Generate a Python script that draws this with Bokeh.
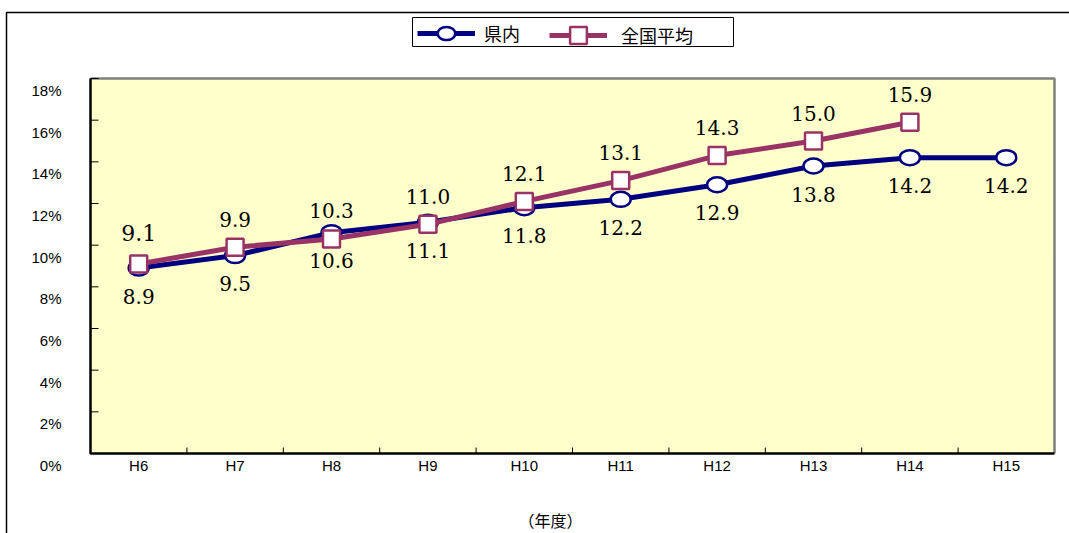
import math
from bokeh.plotting import figure
from bokeh.models import (ColumnDataSource, Range1d, Legend, LegendItem, BoxAnnotation)
from bokeh.core.properties import value
from bokeh.embed import file_html
from bokeh.resources import INLINE

# ---- data ----
years = ["H6", "H7", "H8", "H9", "H10", "H11", "H12", "H13", "H14", "H15"]
pref = [8.9, 9.5, 10.6, 11.1, 11.8, 12.2, 12.9, 13.8, 14.2, 14.2]      # 県内
national = [9.1, 9.9, 10.3, 11.0, 12.1, 13.1, 14.3, 15.0, 15.9]       # 全国平均
y_ticks = [0, 2, 4, 6, 8, 10, 12, 14, 16, 18]
y_tick_labels = [f"{t}%" for t in y_ticks]
x_title = "（年度）"
pref_name = "県内"
nat_name = "全国平均"

NAVY = "#000080"
PLUM = "#993366"

# ---- geometry (pixels) ----
W, H = 1069, 533
L, R, T, B = 90, 1054, 78, 453
n = len(years)
y_min, y_max = y_ticks[0], y_ticks[-1]
xpx = (R - L) / n
ypx = (B - T) / (y_max - y_min)
x_lo, x_hi = -0.5, n - 0.5

p = figure(width=W, height=H, output_backend="svg", toolbar_location=None,
           x_axis_type=None, y_axis_type=None,
           x_range=Range1d(x_lo - L / xpx, x_hi + (W - R) / xpx),
           y_range=Range1d(y_min - (H - B) / ypx, y_max + T / ypx),
           min_border=0, min_border_left=0, min_border_right=0,
           min_border_top=0, min_border_bottom=0)
p.background_fill_color = "white"
p.border_fill_color = "white"
p.outline_line_color = None
p.grid.visible = False

# plot area
p.quad(left=[x_lo], right=[x_hi], bottom=[y_min], top=[y_max],
       fill_color="#FFFFCC", line_color=None)
# frame edges: top/right grey, left/bottom (axes) black
p.line([x_lo, x_hi, x_hi], [y_max, y_max, y_min], line_color="#808080", line_width=2.5)
p.line([x_lo, x_lo, x_hi], [y_max, y_min, y_min], line_color="black", line_width=2.5)

# y ticks (inside) and labels (drawn just below each tick, as in the reference)
p.ray(x=[x_lo] * len(y_ticks), y=y_ticks, length=8, length_units="screen", angle=0,
      line_color="black", line_width=1)
p.text(x=[x_lo] * len(y_ticks), y=y_ticks, text=y_tick_labels, x_offset=-29, y_offset=12,
       text_align="right", text_baseline="middle", text_font=value("Liberation Sans"),
       text_font_size="15px", text_color="black")

# x ticks at category boundaries (inside) and category labels
bounds = [i + 0.5 for i in range(n - 1)]
p.ray(x=bounds, y=[y_min] * len(bounds), length=6, length_units="screen", angle=math.pi / 2,
      line_color="black", line_width=1)
p.text(x=list(range(n)), y=[y_min] * n, text=years, y_offset=12,
       text_align="center", text_baseline="middle", text_font=value("Liberation Sans"),
       text_font_size="15px", text_color="black")
p.text(x=[(x_lo + x_hi) / 2], y=[y_min], text=[x_title], x_offset=-22, y_offset=66,
       text_align="center", text_baseline="middle", text_font=value("Noto Sans CJK JP"),
       text_font_size="16px", text_color="black")

# series
xs_p = list(range(len(pref)))
xs_n = list(range(len(national)))
src_p = ColumnDataSource(dict(x=xs_p, y=pref, t=[f"{v:.1f}" for v in pref]))
src_n = ColumnDataSource(dict(x=xs_n, y=national, t=[f"{v:.1f}" for v in national]))

l1 = p.line("x", "y", source=src_p, line_color=NAVY, line_width=5)
m1 = p.ellipse("x", "y", source=src_p, width=20, height=15, width_units="screen",
               height_units="screen", fill_color="white", line_color=NAVY, line_width=2.5)
l2 = p.line("x", "y", source=src_n, line_color=PLUM, line_width=5)
m2 = p.scatter("x", "y", source=src_n, marker="square", size=17, fill_color="white",
               line_color=PLUM, line_width=2.5)

# data labels
p.text("x", "y", text="t", source=src_p, y_offset=28, text_align="center",
       text_baseline="middle", text_font=value("DejaVu Serif"), text_font_size="20px",
       text_color="black")
src_n_rest = ColumnDataSource(dict(x=xs_n[1:], y=national[1:], t=[f"{v:.1f}" for v in national[1:]]))
src_n_first = ColumnDataSource(dict(x=xs_n[:1], y=national[:1], t=[f"{v:.1f}" for v in national[:1]]))
p.text("x", "y", text="t", source=src_n_rest, y_offset=-28, text_align="center",
       text_baseline="middle", text_font=value("DejaVu Serif"), text_font_size="20px",
       text_color="black")
p.text("x", "y", text="t", source=src_n_first, y_offset=-31, text_align="center",
       text_baseline="middle", text_font=value("DejaVu Serif"), text_font_size="22px",
       text_color="black")

# outer border and legend box
p.add_layout(BoxAnnotation(left=6, right=1200, top=12, bottom=700,
                           left_units="canvas", right_units="canvas",
                           top_units="canvas", bottom_units="canvas",
                           fill_color=None, fill_alpha=0, line_color="black",
                           line_alpha=1, line_width=1.5))
p.add_layout(BoxAnnotation(left=412, right=733, top=17, bottom=46,
                           left_units="canvas", right_units="canvas",
                           top_units="canvas", bottom_units="canvas",
                           fill_color="white", fill_alpha=1, line_color="black",
                           line_alpha=1, line_width=1))

common = dict(orientation="horizontal", glyph_width=58, padding=3, margin=0,
              border_line_color=None, background_fill_alpha=0,
              label_text_font="Noto Sans CJK JP", label_text_font_size="18px",
              label_text_color="black")
leg1 = Legend(items=[LegendItem(label=pref_name, renderers=[l1, m1])],
              location=(417, H - 46), glyph_height=22, label_height=22, label_standoff=9,
              **common)
leg2 = Legend(items=[LegendItem(label=nat_name, renderers=[l2, m2])],
              location=(549, H - 56), glyph_height=42, label_height=22, label_standoff=14,
              **common)
p.add_layout(leg1, "center")
p.add_layout(leg2, "center")

open("out.html", "w").write(file_html(p, INLINE))
